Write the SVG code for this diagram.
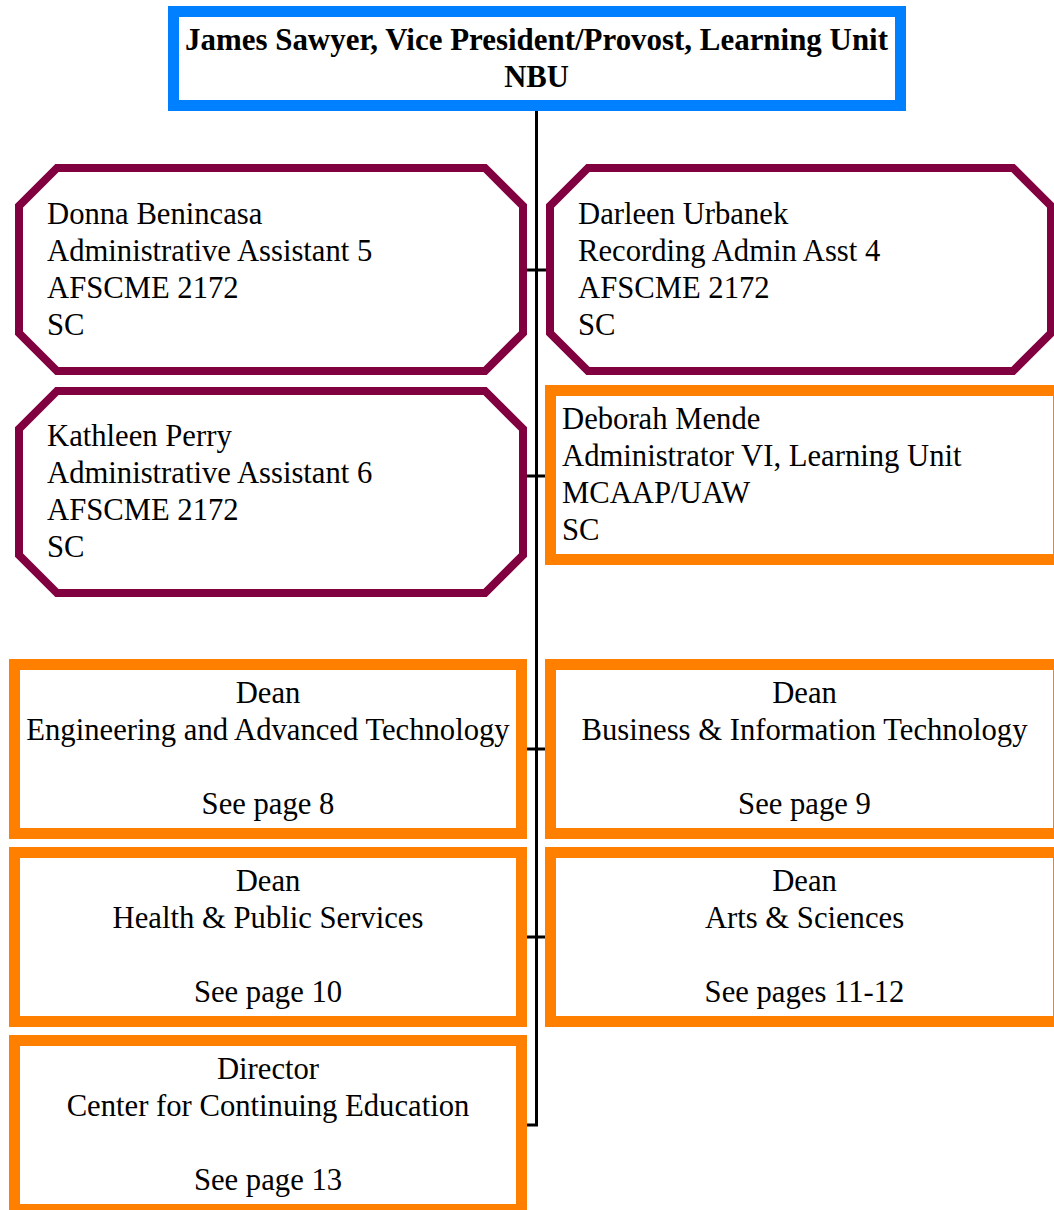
<svg xmlns="http://www.w3.org/2000/svg" width="1054" height="1210" viewBox="0 0 1054 1210">
<style>
.t{font-family:"Liberation Serif","Times New Roman",serif;font-size:30.67px;fill:#000}
.b{font-weight:bold}
.c{text-anchor:middle}
.oct{fill:#fff;stroke:#800040;stroke-width:8}
.box{fill:#fff;stroke:#FF8000;stroke-width:11}
.top{fill:#fff;stroke:#0080FF;stroke-width:11}
.ln{fill:none;stroke:#000;stroke-width:3}
</style>
<rect width="1054" height="1210" fill="#fff"/>
<g id="connectors">
<path class="ln" d="M536.5,111 V1125 H521"/>
<line class="ln" x1="523" y1="270" x2="550" y2="270"/>
<line class="ln" x1="523" y1="476" x2="550" y2="476"/>
<line class="ln" x1="521" y1="749" x2="550" y2="749"/>
<line class="ln" x1="521" y1="937" x2="550" y2="937"/>
</g>
<g id="vp">
<rect class="top" x="173.5" y="11.5" width="727" height="94"/>
<text class="t b c" x="536.5" y="50" textLength="703" lengthAdjust="spacingAndGlyphs">James Sawyer, Vice President/Provost, Learning Unit</text>
<text class="t b c" x="536.5" y="87">NBU</text>
</g>
<g id="donna">
<path class="oct" d="M57,168 H485 L523,206 V333 L485,371 H57 L19,333 V206 Z"/>
<text class="t" x="47" y="224">Donna Benincasa</text>
<text class="t" x="47" y="261">Administrative Assistant 5</text>
<text class="t" x="47" y="298">AFSCME 2172</text>
<text class="t" x="47" y="335">SC</text>
</g>
<g id="darleen">
<path class="oct" d="M588,168 H1013 L1051,206 V333 L1013,371 H588 L550,333 V206 Z"/>
<text class="t" x="578" y="224">Darleen Urbanek</text>
<text class="t" x="578" y="261">Recording Admin Asst 4</text>
<text class="t" x="578" y="298">AFSCME 2172</text>
<text class="t" x="578" y="335">SC</text>
</g>
<g id="kathleen">
<path class="oct" d="M57,391 H485 L523,429 V555 L485,593 H57 L19,555 V429 Z"/>
<text class="t" x="47" y="446">Kathleen Perry</text>
<text class="t" x="47" y="483">Administrative Assistant 6</text>
<text class="t" x="47" y="520">AFSCME 2172</text>
<text class="t" x="47" y="557">SC</text>
</g>
<g id="deborah">
<rect class="box" x="550.5" y="390.5" width="508" height="169"/>
<text class="t" x="562" y="429">Deborah Mende</text>
<text class="t" x="562" y="466">Administrator VI, Learning Unit</text>
<text class="t" x="562" y="503">MCAAP/UAW</text>
<text class="t" x="562" y="540">SC</text>
</g>
<g id="dean-eng">
<rect class="box" x="14.5" y="664.5" width="507" height="169"/>
<text class="t c" x="268" y="703">Dean</text>
<text class="t c" x="268" y="740">Engineering and Advanced Technology</text>
<text class="t c" x="268" y="814">See page 8</text>
</g>
<g id="dean-bus">
<rect class="box" x="550.5" y="664.5" width="508" height="169"/>
<text class="t c" x="804.5" y="703">Dean</text>
<text class="t c" x="804.5" y="740">Business &amp; Information Technology</text>
<text class="t c" x="804.5" y="814">See page 9</text>
</g>
<g id="dean-hps">
<rect class="box" x="14.5" y="852.5" width="507" height="169"/>
<text class="t c" x="268" y="891">Dean</text>
<text class="t c" x="268" y="928">Health &amp; Public Services</text>
<text class="t c" x="268" y="1002">See page 10</text>
</g>
<g id="dean-as">
<rect class="box" x="550.5" y="852.5" width="508" height="169"/>
<text class="t c" x="804.5" y="891">Dean</text>
<text class="t c" x="804.5" y="928">Arts &amp; Sciences</text>
<text class="t c" x="804.5" y="1002">See pages 11-12</text>
</g>
<g id="director-ce">
<rect class="box" x="14.5" y="1040.5" width="507" height="169"/>
<text class="t c" x="268" y="1079">Director</text>
<text class="t c" x="268" y="1116">Center for Continuing Education</text>
<text class="t c" x="268" y="1190">See page 13</text>
</g>
</svg>
